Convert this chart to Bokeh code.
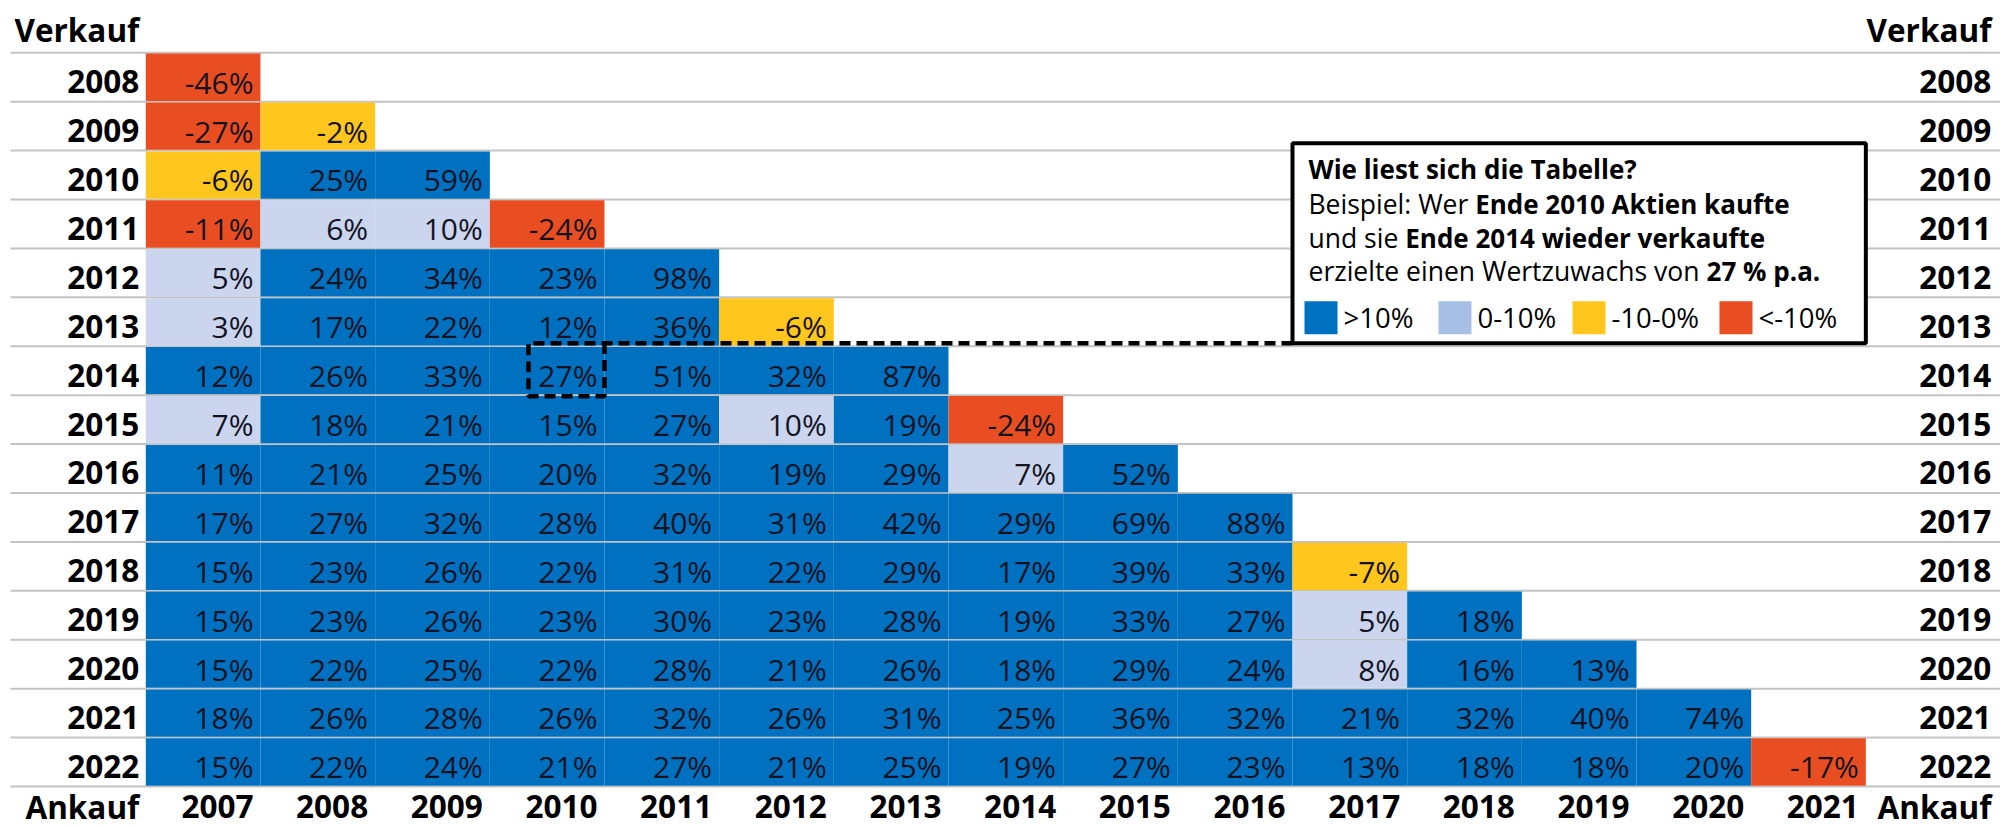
from bokeh.plotting import figure
from bokeh.models import Range1d
from bokeh.core.properties import value
from bokeh.embed import file_html
from bokeh.resources import INLINE

# ---------------- data ----------------
buy_years = [2007, 2008, 2009, 2010, 2011, 2012, 2013, 2014, 2015, 2016, 2017, 2018, 2019, 2020, 2021]   # Ankauf
sell_years = [2008, 2009, 2010, 2011, 2012, 2013, 2014, 2015, 2016, 2017, 2018, 2019, 2020, 2021, 2022]  # Verkauf

# annual return (% p.a.) for each sell year, by buy year starting with 2007
r2008 = [-46]
r2009 = [-27, -2]
r2010 = [-6, 25, 59]
r2011 = [-11, 6, 10, -24]
r2012 = [5, 24, 34, 23, 98]
r2013 = [3, 17, 22, 12, 36, -6]
r2014 = [12, 26, 33, 27, 51, 32, 87]
r2015 = [7, 18, 21, 15, 27, 10, 19, -24]
r2016 = [11, 21, 25, 20, 32, 19, 29, 7, 52]
r2017 = [17, 27, 32, 28, 40, 31, 42, 29, 69, 88]
r2018 = [15, 23, 26, 22, 31, 22, 29, 17, 39, 33, -7]
r2019 = [15, 23, 26, 23, 30, 23, 28, 19, 33, 27, 5, 18]
r2020 = [15, 22, 25, 22, 28, 21, 26, 18, 29, 24, 8, 16, 13]
r2021 = [18, 26, 28, 26, 32, 26, 31, 25, 36, 32, 21, 32, 40, 74]
r2022 = [15, 22, 24, 21, 27, 21, 25, 19, 27, 23, 13, 18, 18, 20, -17]
returns_by_sell = [r2008, r2009, r2010, r2011, r2012, r2013, r2014, r2015,
                   r2016, r2017, r2018, r2019, r2020, r2021, r2022]

legend_labels = [">10%", "0-10%", "-10-0%", "<-10%"]
example_buy, example_sell, example_value = 2010, 2014, 27

# ---------------- style ----------------
C_BLUE = "#0070C0"
C_LIGHT = "#CBD5EE"
C_LIGHT_LEG = "#A7BFE5"
C_YELLOW = "#FFC61E"
C_RED = "#E84E22"
TXT = "#13131f"
FONT = value("Open Sans")

W, H = 2000, 827
PX_X = 114.67   # px per column
PX_Y = 48.91    # px per row
BASE_FIX = 0.32  # baseline correction (fraction of font size)


def dx(px):
    return px / PX_X


def dy(px):
    return px / PX_Y


def fix(size):
    return dy(BASE_FIX * size)


def cat_color(v):
    if v > 10:
        return C_BLUE
    if v >= 0:
        return C_LIGHT
    if v >= -10:
        return C_YELLOW
    return C_RED


x0 = buy_years[0] - 0.5 - dx(145.3)
x1 = x0 + dx(W)
y_top = sell_years[0] - 0.5 - dy(52.3)
y_bot = y_top + dy(H)

p = figure(width=W, height=H, output_backend="svg", toolbar_location=None,
           x_range=Range1d(x0, x1), y_range=Range1d(y_bot, y_top),
           x_axis_location=None, y_axis_location=None, min_border=0)
p.outline_line_color = None
p.grid.visible = False
p.background_fill_color = "white"

# horizontal rules
rule_y = [sell_years[0] - 0.5] + [s + 0.5 for s in sell_years]
p.segment(x0=[x0 + dx(10)] * len(rule_y), x1=[x1 + 1] * len(rule_y), y0=rule_y, y1=rule_y,
          line_color="#c3c3c3", line_width=2)

# cells
cx, cy, cc, ct = [], [], [], []
for s, vals in zip(sell_years, returns_by_sell):
    for b, v in zip(buy_years, vals):
        cx.append(b)
        cy.append(s)
        cc.append(cat_color(v))
        ct.append(f"{v}%")
gap = dy(0.8)
p.quad(left=[x - 0.5 for x in cx], right=[x + 0.5 for x in cx],
       top=[y - 0.5 + gap for y in cy], bottom=[y + 0.5 - gap for y in cy],
       fill_color=cc, line_color=None)
CELL_FS = 30
p.text(x=[x + 0.5 - dx(7) for x in cx], y=[y + 0.5 - dy(10) - fix(CELL_FS) for y in cy], text=ct,
       text_align="right", text_baseline="alphabetic", text_font=FONT,
       text_font_size=f"{CELL_FS}px", text_color=TXT)

# row labels (left + right)
LAB_FS = 31.5
lab_kw = dict(text_baseline="alphabetic", text_font=FONT, text_font_style="bold",
              text_font_size=f"{LAB_FS}px", text_color="black", text_align="right")
left_x = buy_years[0] - 0.5 - dx(6.5)
right_x = buy_years[-1] + 0.5 + dx(125.5)
row_base = [s + 0.5 - dy(10) - fix(LAB_FS) for s in sell_years]
p.text(x=[left_x] * len(sell_years), y=row_base, text=[str(s) for s in sell_years], **lab_kw)
p.text(x=[right_x] * len(sell_years), y=row_base, text=[str(s) for s in sell_years], **lab_kw)
# headers
head_y = sell_years[0] - 0.5 - dy(12.8) - fix(LAB_FS)
foot_y = sell_years[-1] + 0.5 + dy(30) - fix(LAB_FS)
p.text(x=[left_x, right_x], y=[head_y, head_y], text=["Verkauf", "Verkauf"], **lab_kw)
p.text(x=[left_x, right_x], y=[foot_y, foot_y], text=["Ankauf", "Ankauf"], **lab_kw)
p.text(x=[b + 0.5 - dx(7) for b in buy_years], y=[foot_y] * len(buy_years),
       text=[str(b) for b in buy_years], **lab_kw)

# ---------------- explanation box ----------------
box_l = buy_years[-5] - 0.5
box_r = buy_years[-1] + 0.5
box_b = example_sell - 0.5 - dy(3)
box_t = box_b - dy(200)

# dashed highlight and connector
hx0 = example_buy + 0.5 - dx(76)
hx1 = example_buy + 0.5
hy0 = example_sell - 0.5 - dy(3)
hy1 = example_sell + 0.5 + dy(1)
p.line(x=[box_l, hx0, hx0, hx1, hx1], y=[hy0, hy0, hy1, hy1, hy0],
       line_color="black", line_width=4.5, line_dash="11 6")

p.quad(left=[box_l], right=[box_r], top=[box_t], bottom=[box_b],
       fill_color="white", line_color="black", line_width=4)

REG = {' ': 532, 'B': 1315, 'e': 1149, 'i': 518, 's': 977, 'p': 1255, 'l': 518, ':': 545,
       'W': 1886, 'r': 836, 'u': 1257, 'n': 1257, 'd': 1255, 'z': 977, 't': 723, 'w': 1593,
       'a': 1139, 'c': 975, 'h': 1257, 'v': 1026, 'o': 1237}


def reg_width(s, size):
    return sum(REG.get(ch, 1150) for ch in s) * size / 2048


tx = box_l + dx(16)
FS_B = 26
FS_R = 26.5
p.text(x=[tx], y=[box_t + dy(34.5) - fix(FS_B)], text=["Wie liest sich die Tabelle?"],
       text_font_style="bold", text_baseline="alphabetic", text_font=FONT,
       text_font_size=f"{FS_B}px", text_color="black", text_align="left")
lines = [
    ("Beispiel: Wer ", f"Ende {example_buy} Aktien kaufte", 69),
    ("und sie ", f"Ende {example_sell} wieder verkaufte", 103),
    ("erzielte einen Wertzuwachs von ", f"{example_value} % p.a.", 136),
]
for reg, bold, off in lines:
    yy = box_t + dy(off)
    p.text(x=[tx], y=[yy - fix(FS_R)], text=[reg], text_baseline="alphabetic", text_font=FONT,
           text_font_size=f"{FS_R}px", text_color="black", text_align="left")
    p.text(x=[tx + dx(reg_width(reg, FS_R))], y=[yy - fix(FS_B)], text=[bold],
           text_font_style="bold", text_baseline="alphabetic", text_font=FONT,
           text_font_size=f"{FS_B}px", text_color="black", text_align="left")

# legend swatches
sw_off = [12, 146, 280, 427]
sw_cols = [C_BLUE, C_LIGHT_LEG, C_YELLOW, C_RED]
p.quad(left=[box_l + dx(o) for o in sw_off], right=[box_l + dx(o + 33) for o in sw_off],
       top=[box_t + dy(158)] * 4, bottom=[box_t + dy(191)] * 4,
       fill_color=sw_cols, line_color=None)
LEG_FS = 27.5
p.text(x=[box_l + dx(o + 39) for o in sw_off], y=[box_t + dy(183.5) - fix(LEG_FS)] * 4,
       text=legend_labels, text_baseline="alphabetic", text_font=FONT,
       text_font_size=f"{LEG_FS}px", text_color="black", text_align="left")

open("out.html", "w").write(file_html(p, INLINE))
